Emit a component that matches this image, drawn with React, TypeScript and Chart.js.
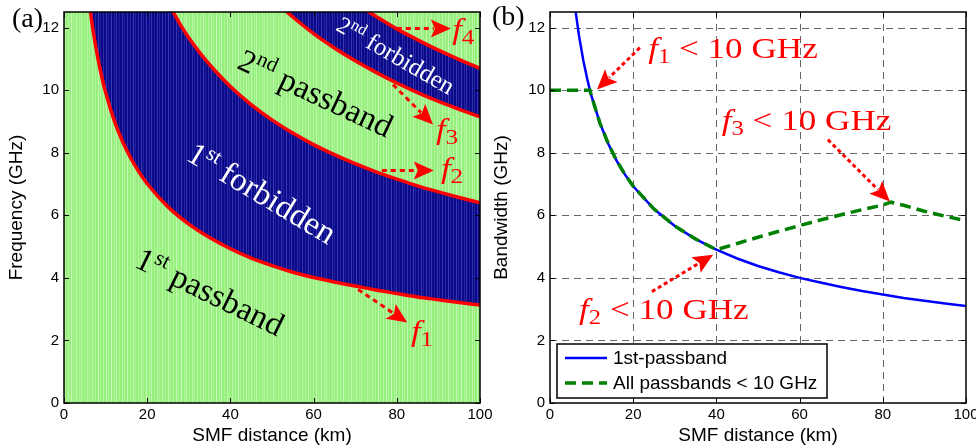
import React, { useEffect, useRef } from "react";
import { Chart, registerables } from "chart.js";

Chart.register(...registerables);

// ---------------- data ----------------
const distanceTicks = [0, 20, 40, 60, 80, 100];
const freqTicks = [0, 2, 4, 6, 8, 10, 12];

// (a) boundaries of the passbands / forbidden bands (GHz) vs SMF distance (km)
const f1Dist = [6, 7, 8, 9, 10, 12, 14, 16, 18, 20, 25, 30, 35, 40, 45, 50, 55, 60, 65, 70, 75, 80, 85, 90, 95, 100];
const f1Freq = [12.85, 11.9, 11.12, 10.47, 9.93, 9.06, 8.38, 7.84, 7.39, 7.01, 6.27, 5.72, 5.29, 4.93, 4.63, 4.39, 4.18, 4.01, 3.87, 3.74, 3.61, 3.5, 3.39, 3.3, 3.21, 3.13];
const f2Dist = [25, 28, 30, 33, 36, 40, 45, 50, 55, 60, 65, 70, 75, 80, 85, 90, 95, 100];
const f2Freq = [12.8, 12.09, 11.68, 11.14, 10.67, 10.12, 9.54, 9.05, 8.63, 8.26, 7.94, 7.65, 7.39, 7.16, 6.94, 6.75, 6.57, 6.4];
const f3Dist = [52, 55, 60, 65, 70, 75, 80, 85, 90, 95, 100];
const f3Freq = [12.69, 12.34, 11.81, 11.35, 10.94, 10.57, 10.23, 9.92, 9.64, 9.39, 9.15];
const f4Dist = [72, 75, 80, 85, 90, 95, 100];
const f4Freq = [12.61, 12.36, 11.96, 11.61, 11.28, 10.98, 10.7];

// (b) bandwidth (GHz) vs SMF distance (km)
const bw1Dist = [6, 7, 8, 9, 9.6, 10, 12, 14, 16, 18, 20, 25, 30, 35, 40, 45, 50, 55, 60, 65, 70, 75, 80, 85, 90, 95, 100];
const bw1st = [12.66, 11.72, 10.96, 10.33, 10.0, 9.8, 8.95, 8.29, 7.75, 7.31, 6.93, 6.2, 5.66, 5.24, 4.9, 4.62, 4.38, 4.18, 4.0, 3.85, 3.71, 3.58, 3.47, 3.36, 3.27, 3.18, 3.1];
const bwAllDist = [0, 9.6, 10, 12, 14, 16, 18, 20, 25, 30, 35, 40, 45, 50, 55, 60, 65, 70, 75, 80, 82, 85, 90, 95, 100];
const bwAll = [10, 10, 9.8, 8.95, 8.29, 7.75, 7.31, 6.93, 6.2, 5.66, 5.24, 4.9, 5.1, 5.3, 5.49, 5.67, 5.85, 6.02, 6.18, 6.33, 6.42, 6.32, 6.13, 5.97, 5.83];

const seriesNames = ["1st-passband", "All passbands < 10 GHz"];

// ---------------- helpers ----------------
const SERIF = '"Liberation Serif", "DejaVu Serif", serif';
const SANS = '"Liberation Sans", Arial, Helvetica, sans-serif';
const RED = "#ff0000";

const pts = (xs: number[], ys: number[]) => xs.map((x, i) => ({ x, y: ys[i] }));

function makePattern(base: string, stripe: string, alphas: number[], positions: number[], w: number) {
  const c = document.createElement("canvas");
  c.width = w;
  c.height = 4;
  const g = c.getContext("2d")!;
  g.fillStyle = base;
  g.fillRect(0, 0, w, 4);
  positions.forEach((p, i) => {
    g.globalAlpha = alphas[i % alphas.length];
    g.fillStyle = stripe;
    g.fillRect(p, 0, 1, 4);
  });
  const ctx = document.createElement("canvas").getContext("2d")!;
  return ctx.createPattern(c, "repeat")!;
}

type Part = { text: string; font: string; dy?: number };

function drawRich(ctx: CanvasRenderingContext2D, x: number, y: number, angle: number, parts: Part[], color: string, sx = 1) {
  ctx.save();
  ctx.translate(x, y);
  ctx.rotate((angle * Math.PI) / 180);
  ctx.scale(sx, 1);
  ctx.fillStyle = color;
  ctx.textAlign = "left";
  ctx.textBaseline = "alphabetic";
  let cx = 0;
  for (const p of parts) {
    ctx.font = p.font;
    ctx.fillText(p.text, cx, p.dy || 0);
    cx += ctx.measureText(p.text).width;
  }
  ctx.restore();
}

function drawArrow(ctx: CanvasRenderingContext2D, x1: number, y1: number, x2: number, y2: number, dash: number[]) {
  const dx = x2 - x1, dy = y2 - y1;
  const len = Math.hypot(dx, dy);
  const ux = dx / len, uy = dy / len;
  const hl = 20, hw = 9;
  const bx = x2 - ux * hl, by = y2 - uy * hl;
  ctx.save();
  ctx.strokeStyle = RED;
  ctx.fillStyle = RED;
  ctx.lineWidth = 3;
  ctx.setLineDash(dash);
  ctx.beginPath();
  ctx.moveTo(x1, y1);
  ctx.lineTo(bx + ux * 3, by + uy * 3);
  ctx.stroke();
  ctx.setLineDash([]);
  ctx.beginPath();
  ctx.moveTo(x2, y2);
  ctx.lineTo(bx - uy * hw, by + ux * hw);
  ctx.lineTo(bx + ux * 4, by + uy * 4);
  ctx.lineTo(bx + uy * hw, by - ux * hw);
  ctx.closePath();
  ctx.fill();
  ctx.restore();
}

function drawFrame(chart: any) {
  const { ctx, chartArea: a, scales } = chart;
  const sx = scales.x, sy = scales.y;
  ctx.save();
  ctx.strokeStyle = "#000";
  ctx.lineWidth = 1;
  ctx.beginPath();
  for (const v of distanceTicks) {
    const p = Math.round(sx.getPixelForValue(v)) + 0.5;
    ctx.moveTo(p, a.bottom);
    ctx.lineTo(p, a.bottom - 5);
    ctx.moveTo(p, a.top);
    ctx.lineTo(p, a.top + 5);
  }
  for (const v of freqTicks) {
    const p = Math.round(sy.getPixelForValue(v)) + 0.5;
    ctx.moveTo(a.left, p);
    ctx.lineTo(a.left + 5, p);
    ctx.moveTo(a.right, p);
    ctx.lineTo(a.right - 5, p);
  }
  ctx.stroke();
  ctx.lineWidth = 1.5;
  ctx.strokeRect(a.left, a.top, a.right - a.left, a.bottom - a.top);
  ctx.restore();
}

function axisOptions(min: number, max: number, tickValues: number[], title: string, isX: boolean, yWidth = 64, titlePad = 5) {
  return {
    type: "linear",
    min,
    max,
    afterBuildTicks: (s: any) => {
      s.ticks = tickValues.map((v) => ({ value: v }));
    },
    afterFit: (s: any) => {
      if (isX) {
        s.height = 45;
        s.paddingLeft = 0;
        s.paddingRight = 0;
      } else {
        s.width = yWidth;
        s.paddingTop = 0;
        s.paddingBottom = 0;
      }
    },
    grid: { display: false, drawTicks: false },
    border: { display: false },
    ticks: {
      autoSkip: false,
      maxRotation: 0,
      padding: isX ? 3 : 5,
      color: "#000",
      font: { family: SANS, size: 15 },
    },
    title: {
      display: true,
      text: title,
      color: "#000",
      font: { family: SANS, size: 19 },
      padding: isX ? { top: 0, bottom: 1 } : { top: titlePad, bottom: 0 },
    },
  };
}

// annotation layouts (data coordinates)
const bigF = (n: number) => `${n}px ${SERIF}`;
const labelsA = [
  { at: [16.6, 4.37], angle: 26, color: "#000", parts: [{ text: "1", font: bigF(33) }, { text: "st", font: bigF(22), dy: -12 }, { text: " passband", font: bigF(33) }] },
  { at: [29.1, 7.79], angle: 31, color: "#fff", parts: [{ text: "1", font: bigF(32) }, { text: "st", font: bigF(21), dy: -12 }, { text: " forbidden", font: bigF(33) }] },
  { at: [41.3, 10.72], angle: 25, color: "#000", parts: [{ text: "2", font: bigF(32) }, { text: "nd", font: bigF(21), dy: -12 }, { text: " passband", font: bigF(33) }] },
  { at: [65.1, 11.94], angle: 30, color: "#fff", parts: [{ text: "2", font: bigF(24) }, { text: "nd", font: bigF(16), dy: -9 }, { text: " forbidden", font: bigF(25) }] },
];
const fLabel = (d: string, size: number) => [
  { text: "f", font: `italic ${size}px ${SERIF}` },
  { text: d, font: `${Math.round(size * 0.72)}px ${SERIF}`, dy: Math.round(size * 0.17) },
];
const fTagsA = [
  { at: [93.3, 11.65], parts: fLabel("4", 29), from: [80, 11.97], to: [93.0, 11.97] },
  { at: [89.4, 8.45], parts: fLabel("3", 29), from: [79.1, 10.18], to: [88.7, 8.9] },
  { at: [90.6, 7.2], parts: fLabel("2", 29), from: [76.4, 7.43], to: [88.9, 7.43] },
  { at: [83.4, 1.99], parts: fLabel("1", 29), from: [70.7, 3.63], to: [82.5, 2.57] },
];
const tagsB = [
  { at: [23.6, 11.04], d: "1", from: [21.6, 11.36], to: [11.3, 10.02] },
  { at: [41.3, 8.74], d: "3", from: [66.8, 8.42], to: [81.7, 6.44] },
  { at: [7.0, 2.67], d: "2", from: [24.5, 3.56], to: [39.2, 4.74] },
];

export default function App() {
  const refA = useRef<HTMLCanvasElement>(null);
  const refB = useRef<HTMLCanvasElement>(null);

  useEffect(() => {
    const stripePos = [1, 3, 6, 9, 11, 14, 17, 19, 22, 25, 28, 30, 33];
    const alphas = [0.55, 0.3, 0.6, 0.35, 0.5, 0.25, 0.45, 0.3, 0.5, 0.35, 0.6, 0.3, 0.4];
    const green = makePattern("#97f07e", "#e6ffdc", alphas, stripePos, 35);
    const blue = makePattern("#0a0a88", "#5a5ad8", alphas, stripePos, 35);

    const line = (xs: number[], ys: number[], fillColor: any, order: number) => ({
      data: pts(xs, ys),
      borderColor: RED,
      borderWidth: 3.5,
      pointRadius: 0,
      cubicInterpolationMode: "monotone",
      fill: "end",
      backgroundColor: fillColor,
      order,
    });

    const panelA = {
      id: "panelA",
      beforeDraw(chart: any) {
        const { ctx, chartArea: a } = chart;
        ctx.save();
        ctx.fillStyle = green;
        ctx.fillRect(a.left, a.top, a.right - a.left, a.bottom - a.top);
        ctx.restore();
      },
      afterDraw(chart: any) {
        const { ctx, chartArea: a, scales } = chart;
        const X = (v: number) => scales.x.getPixelForValue(v);
        const Y = (v: number) => scales.y.getPixelForValue(v);
        ctx.save();
        ctx.beginPath();
        ctx.rect(a.left, a.top, a.right - a.left, a.bottom - a.top);
        ctx.clip();
        for (const l of labelsA) drawRich(ctx, X(l.at[0]), Y(l.at[1]), l.angle, l.parts as Part[], l.color);
        for (const t of fTagsA) {
          drawArrow(ctx, X(t.from[0]), Y(t.from[1]), X(t.to[0]), Y(t.to[1]), [5, 4]);
          drawRich(ctx, X(t.at[0]), Y(t.at[1]), 0, t.parts as Part[], RED, 1.2);
        }
        ctx.restore();
        drawFrame(chart);
        drawRich(ctx, a.left - 52, a.top + 15, 0, [{ text: "(a)", font: `28px ${SERIF}` }], "#000");
      },
    };

    const chartA = new Chart(refA.current!, {
      type: "line",
      data: {
        datasets: [
          line(f4Dist, f4Freq, green, 1),
          line(f3Dist, f3Freq, blue, 2),
          line(f2Dist, f2Freq, green, 3),
          line(f1Dist, f1Freq, blue, 4),
        ] as any,
      },
      options: {
        responsive: false,
        animation: false,
        layout: { padding: { left: 0, right: 20, top: 12, bottom: 0 } },
        plugins: { legend: { display: false }, tooltip: { enabled: false } },
        scales: {
          x: axisOptions(0, 100, distanceTicks, "SMF distance (km)", true),
          y: axisOptions(0, 12.5, freqTicks, "Frequency (GHz)", false, 64, 5),
        } as any,
      },
      plugins: [panelA],
    });

    const panelB = {
      id: "panelB",
      beforeDatasetsDraw(chart: any) {
        const { ctx, chartArea: a, scales } = chart;
        ctx.save();
        ctx.strokeStyle = "#666";
        ctx.lineWidth = 1;
        ctx.setLineDash([7, 5]);
        ctx.beginPath();
        for (const v of distanceTicks.slice(1, -1)) {
          const p = Math.round(scales.x.getPixelForValue(v)) + 0.5;
          ctx.moveTo(p, a.top);
          ctx.lineTo(p, a.bottom);
        }
        for (const v of freqTicks.slice(1)) {
          const p = Math.round(scales.y.getPixelForValue(v)) + 0.5;
          ctx.moveTo(a.left, p);
          ctx.lineTo(a.right, p);
        }
        ctx.stroke();
        ctx.restore();
      },
      afterDraw(chart: any) {
        const { ctx, chartArea: a, scales } = chart;
        const X = (v: number) => scales.x.getPixelForValue(v);
        const Y = (v: number) => scales.y.getPixelForValue(v);
        for (const t of tagsB) {
          drawArrow(ctx, X(t.from[0]), Y(t.from[1]), X(t.to[0]), Y(t.to[1]), [4, 3]);
          drawRich(
            ctx,
            X(t.at[0]),
            Y(t.at[1]),
            0,
            [
              { text: "f", font: `italic 30px ${SERIF}` },
              { text: t.d, font: `21px ${SERIF}`, dy: 5 },
              { text: " < 10 GHz", font: `30px ${SERIF}` },
            ],
            RED,
            1.17
          );
        }
        // legend
        const ds = chart.data.datasets;
        const bx = a.left + 7, by = a.bottom - 59, bw = 270, bh = 54;
        ctx.save();
        ctx.fillStyle = "#fff";
        ctx.fillRect(bx, by, bw, bh);
        ctx.strokeStyle = "#000";
        ctx.lineWidth = 1.5;
        ctx.strokeRect(bx, by, bw, bh);
        const rows = [ds[1], ds[0]];
        rows.forEach((d: any, i: number) => {
          const yy = by + 14 + i * 25;
          ctx.strokeStyle = d.borderColor;
          ctx.lineWidth = d.borderWidth;
          ctx.setLineDash(d.borderDash || []);
          ctx.beginPath();
          ctx.moveTo(bx + 8, yy);
          ctx.lineTo(bx + 50, yy);
          ctx.stroke();
          ctx.setLineDash([]);
          ctx.fillStyle = "#000";
          ctx.font = `19px ${SANS}`;
          ctx.textBaseline = "middle";
          ctx.textAlign = "left";
          ctx.fillText(d.label, bx + 56, yy + 1);
        });
        ctx.restore();
        drawFrame(chart);
        drawRich(ctx, a.left - 58, a.top + 13, 0, [{ text: "(b)", font: `28px ${SERIF}` }], "#000");
      },
    };

    const chartB = new Chart(refB.current!, {
      type: "line",
      data: {
        datasets: [
          {
            label: seriesNames[1],
            data: pts(bwAllDist, bwAll),
            borderColor: "#008000",
            borderWidth: 3.5,
            borderDash: [11, 6],
            pointRadius: 0,
            tension: 0,
            fill: false,
            order: 0,
          },
          {
            label: seriesNames[0],
            data: pts(bw1Dist, bw1st),
            borderColor: "#0000ff",
            borderWidth: 2.5,
            pointRadius: 0,
            tension: 0,
            fill: false,
            order: 1,
          },
        ] as any,
      },
      options: {
        responsive: false,
        animation: false,
        layout: { padding: { left: 0, right: 10, top: 12, bottom: 0 } },
        plugins: { legend: { display: false }, tooltip: { enabled: false } },
        scales: {
          x: axisOptions(0, 100, distanceTicks, "SMF distance (km)", true),
          y: axisOptions(0, 12.5, freqTicks, "Bandwidth (GHz)", false, 62, 2),
        } as any,
      },
      plugins: [panelB],
    });

    return () => {
      chartA.destroy();
      chartB.destroy();
    };
  }, []);

  return (
    <div style={{ position: "fixed", left: 0, top: 0, width: 976, height: 448, background: "#fff" }}>
      <canvas ref={refA} width={500} height={448} style={{ position: "absolute", left: 0, top: 0, width: 500, height: 448 }} />
      <canvas ref={refB} width={488} height={448} style={{ position: "absolute", left: 488, top: 0, width: 488, height: 448 }} />
    </div>
  );
}
